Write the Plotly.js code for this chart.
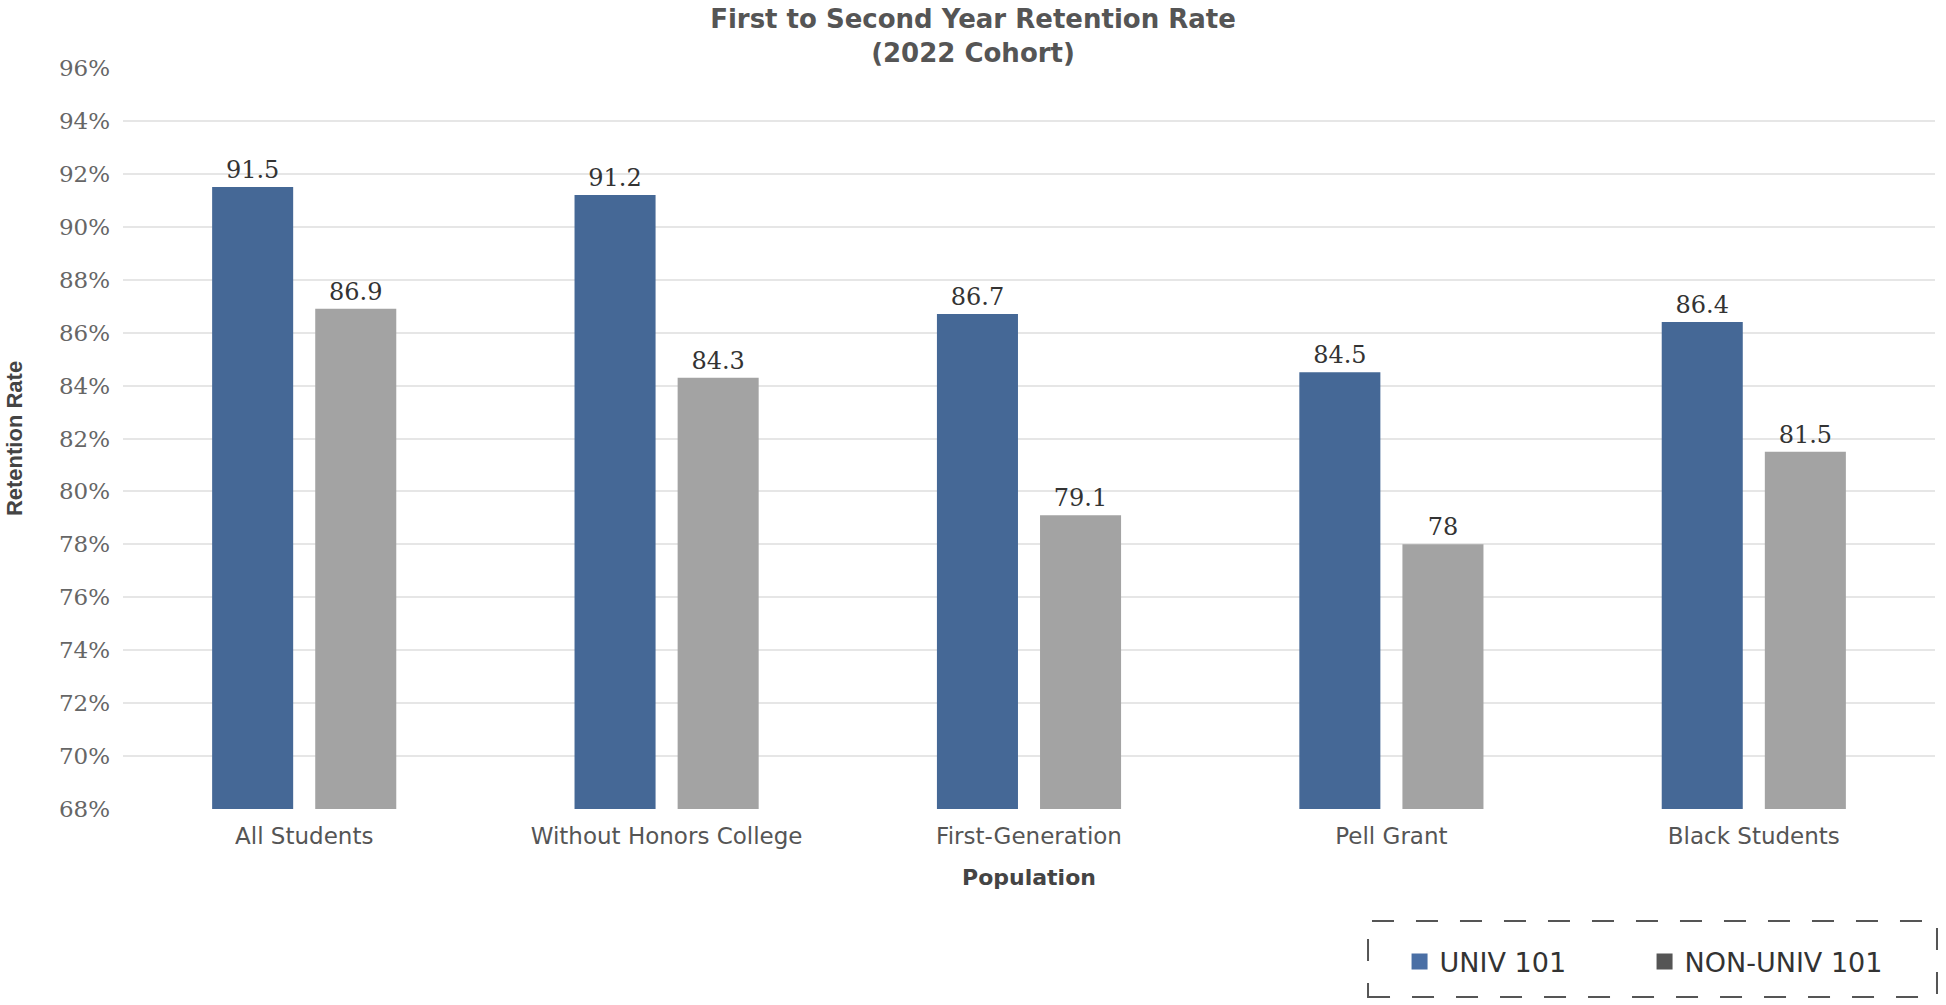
<!DOCTYPE html>
<html>
<head>
<meta charset="utf-8">
<script src="https://cdn.plot.ly/plotly-3.0.1.min.js"></script>
<style>html,body{margin:0;padding:0;background:#fff;}</style>
</head>
<body>
<div id="chart" style="width:1946px;height:1005px;"></div>
<script>
const categories = ["All Students", "Without Honors College", "First-Generation", "Pell Grant", "Black Students"];
const univ101 = [91.5, 91.2, 86.7, 84.5, 86.4];
const nonUniv101 = [86.9, 84.3, 79.1, 78, 81.5];
const seriesNames = ["UNIV 101", "NON-UNIV 101"];
const yTicks = [68, 70, 72, 74, 76, 78, 80, 82, 84, 86, 88, 90, 92, 94, 96];
const yTickText = yTicks.map(v => v + "%");

const labelFont = {family: "DejaVu Serif", size: 24, color: "#333"};

const traces = [
  {type: "bar", x: categories, y: univ101, name: seriesNames[0], showlegend: false,
   marker: {color: "#456896"}, text: univ101.map(String), textposition: "outside",
   textfont: labelFont, cliponaxis: false, hoverinfo: "skip"},
  {type: "bar", x: categories, y: nonUniv101, name: seriesNames[1], showlegend: false,
   marker: {color: "#a3a3a3"}, text: nonUniv101.map(String), textposition: "outside",
   textfont: labelFont, cliponaxis: false, hoverinfo: "skip"},
  {type: "scatter", mode: "markers", x: [null], y: [null], name: seriesNames[0],
   marker: {symbol: "square", size: 16, color: "#4a6fa5"}, hoverinfo: "skip"},
  {type: "scatter", mode: "markers", x: [null], y: [null], name: seriesNames[1],
   marker: {symbol: "square", size: 16, color: "#555555"}, hoverinfo: "skip"}
];

const layout = {
  width: 1946, height: 1005,
  margin: {l: 123, r: 11, t: 68, b: 196, pad: 0, autoexpand: false},
  paper_bgcolor: "#ffffff", plot_bgcolor: "#ffffff",
  barmode: "group", bargap: 0.431, bargroupgap: 0.214,
  title: {
    text: "First to Second Year Retention Rate<br>(2022 Cohort)",
    font: {family: "DejaVu Sans", size: 26, weight: "bold", color: "#555"},
    x: 0.5, xref: "container", xanchor: "center",
    y: 0.972, yref: "container", yanchor: "top"
  },
  xaxis: {
    type: "category", showgrid: false, showline: false, zeroline: false, ticks: "",
    tickfont: {family: "DejaVu Sans", size: 23, color: "#555"},
    ticklabelstandoff: 11,
    title: {text: "Population", font: {family: "DejaVu Sans", size: 22, weight: "bold", color: "#444"}, standoff: 21}
  },
  yaxis: {
    range: [68, 96], tickvals: yTicks, ticktext: yTickText,
    showline: false, zeroline: false, ticks: "",
    gridcolor: "#e6e6e6", gridwidth: 2,
    tickfont: {family: "DejaVu Serif", size: 23, color: "#666"},
    ticklabelstandoff: 12,
    title: {text: "Retention Rate", font: {family: "Liberation Sans", size: 22, weight: "bold", color: "#444"}, standoff: 30}
  },
  showlegend: true,
  legend: {
    orientation: "h", x: 0.7045, xanchor: "left", y: -0.2065, yanchor: "middle",
    font: {family: "DejaVu Sans", size: 27, color: "#333"},
    entrywidth: 200, entrywidthmode: "pixels", bgcolor: "rgba(0,0,0,0)"
  },
  shapes: [{
    type: "rect", xref: "paper", yref: "paper",
    x0: 0.6871, x1: 1.0011, y0: -0.2537, y1: -0.1511,
    line: {color: "#555", width: 2, dash: "22px,22px"}, fillcolor: "rgba(0,0,0,0)"
  }]
};

Plotly.newPlot("chart", traces, layout, {staticPlot: true, displayModeBar: false});
</script>
</body>
</html>
